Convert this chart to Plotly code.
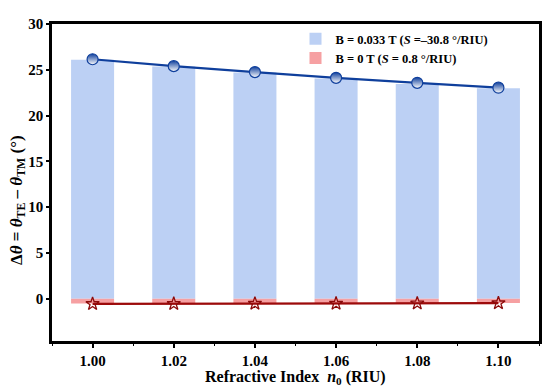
import plotly.graph_objects as go

# ---- data ----
n0 = [1.00, 1.02, 1.04, 1.06, 1.08, 1.10]
blue_bars = [26.1, 25.35, 24.7, 24.05, 23.45, 23.0]
blue_line = [26.15, 25.40, 24.75, 24.12, 23.58, 23.05]
red_bars = [-0.50, -0.49, -0.49, -0.48, -0.47, -0.46]
red_line = [-0.55, -0.54, -0.52, -0.51, -0.49, -0.47]
y_ticks = [0, 5, 10, 15, 20, 25, 30]
x_ticks = [1.00, 1.02, 1.04, 1.06, 1.08, 1.10]
x_tick_labels = ["1.00", "1.02", "1.04", "1.06", "1.08", "1.10"]
legend_blue = "<b>B = 0.033 T (<i>S</i> =–30.8 °/RIU)</b>"
legend_red = "<b>B = 0 T (<i>S</i> = 0.8 °/RIU)</b>"

FONT = "Liberation Serif, Times New Roman, serif"

fig = go.Figure()
fig.add_trace(go.Bar(x=n0, y=blue_bars, width=0.0106, name=legend_blue,
                     marker=dict(color="#bcd0f4", line=dict(width=0))))
fig.add_trace(go.Bar(x=n0, y=red_bars, width=0.0106, name=legend_red,
                     marker=dict(color="#f6a0a2", line=dict(width=0))))
fig.add_trace(go.Scatter(x=n0, y=blue_line, mode="lines+markers", showlegend=False,
                         line=dict(color="#0f3f9c", width=2.2),
                         marker=dict(symbol="circle", size=11, color="#0f3f9c",
                                     gradient=dict(type="vertical", color="white"),
                                     line=dict(color="#0f3f9c", width=1.2))))
fig.add_trace(go.Scatter(x=n0, y=red_line, mode="lines+markers", showlegend=False,
                         line=dict(color="#9c0a0a", width=2.2),
                         marker=dict(symbol="star-open", size=10, color="#8c0a0a",
                                     line=dict(width=1.3))))

fig.update_layout(
    width=542, height=378,
    margin=dict(l=44, r=8, t=8, b=45),
    paper_bgcolor="white", plot_bgcolor="white",
    barmode="overlay",
    font=dict(family=FONT, color="black"),
    legend=dict(x=0.5, y=1.0, xanchor="left", yanchor="top",
                bgcolor="rgba(0,0,0,0)", font=dict(family=FONT, size=12.5, color="black"),
                tracegroupgap=0, itemwidth=30),
    xaxis=dict(range=[0.99, 1.11], tickvals=x_ticks, ticktext=x_tick_labels,
               showgrid=False, zeroline=False,
               showline=True, linecolor="black", linewidth=2.5, mirror=True,
               ticks="outside", ticklen=4, tickwidth=1.5, tickcolor="black",
               minor=dict(ticks="outside", ticklen=2.5, tickwidth=1.2, dtick=0.01,
                          tick0=1.0, tickcolor="black"),
               tickfont=dict(family=FONT, size=15, weight="bold")),
    yaxis=dict(range=[-4.6, 30], tickvals=y_ticks,
               showgrid=False, zeroline=False,
               showline=True, linecolor="black", linewidth=2.5, mirror=True,
               ticks="outside", ticklen=3, tickwidth=1.5, tickcolor="black",
               tickfont=dict(family=FONT, size=15, weight="bold")),
    annotations=[
        dict(text="<b>Δ<i>θ</i> = <i>θ</i><sub>TE</sub> – <i>θ</i><sub>TM</sub> (°)</b>",
             xref="paper", yref="paper", x=-0.071, y=0.446,
             xanchor="center", yanchor="middle", textangle=-90,
             showarrow=False, font=dict(family=FONT, size=17, color="black")),
        dict(text="<b>Refractive Index  <i>n</i><sub>0</sub> (RIU)</b>",
             xref="paper", yref="paper", x=0.5, y=-0.114,
             xanchor="center", yanchor="middle",
             showarrow=False, font=dict(family=FONT, size=16, color="black")),
    ],
)

fig.write_html("out.html")
